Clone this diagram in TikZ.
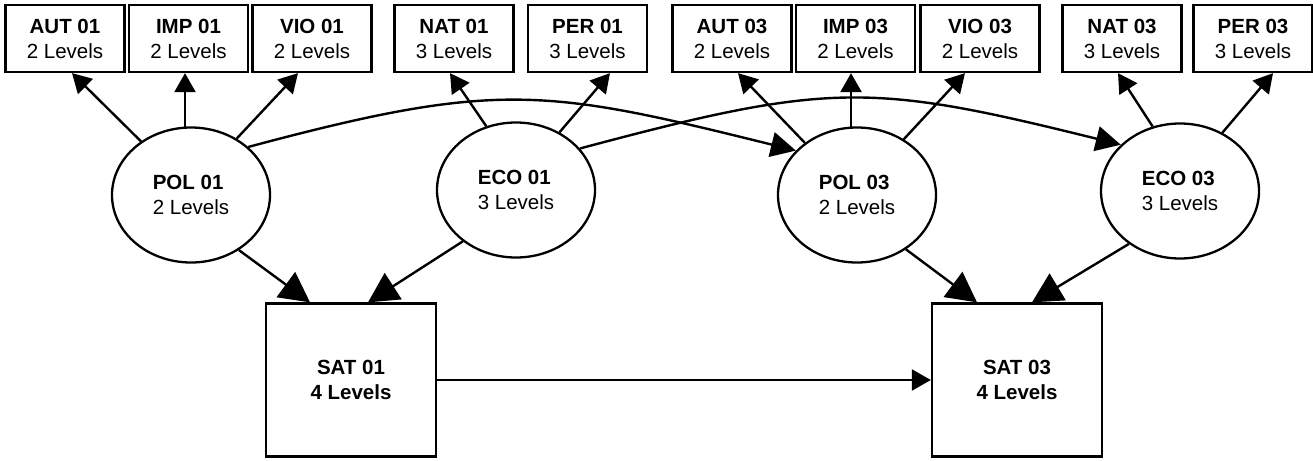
\documentclass[tikz,border=0pt]{standalone}
\usepackage{fontspec}
\setmainfont{Liberation Sans}
\usetikzlibrary{shapes.geometric,arrows.meta,calc}

\begin{document}
\begin{tikzpicture}[x=1pt,y=-1pt,
  every node/.style={font=\fontsize{20.5}{25}\selectfont},
  varbox/.style={draw,line width=2.3pt,minimum width=119pt,minimum height=67pt,inner sep=0pt,align=center},
  latent/.style={draw,ellipse,line width=2.3pt,minimum width=158pt,minimum height=135pt,inner sep=0pt,align=left},
  outcome/.style={draw,line width=2.3pt,minimum width=170pt,minimum height=153pt,inner sep=0pt,align=center,
    font=\fontsize{20.5}{25}\selectfont\bfseries},
  link/.style={line width=2.4pt},
  arrowS/.style={link,-{Triangle[length=19pt,width=21pt]}},
  arrowM/.style={link,-{Triangle[length=25pt,width=25pt]}},
  arrowL/.style={link,-{Triangle[length=30pt,width=31pt]}}
]
\useasboundingbox (0,0) rectangle (1313,460);

% indicator boxes
\node[varbox] (aut1) at (65,38.5)    {\textbf{AUT 01}\\2 Levels};
\node[varbox] (imp1) at (188.5,38.5) {\textbf{IMP 01}\\2 Levels};
\node[varbox] (vio1) at (312,38.5)   {\textbf{VIO 01}\\2 Levels};
\node[varbox] (nat1) at (454,38.5)   {\textbf{NAT 01}\\3 Levels};
\node[varbox] (per1) at (587.5,38.5) {\textbf{PER 01}\\3 Levels};
\node[varbox] (aut3) at (732,38.5)   {\textbf{AUT 03}\\2 Levels};
\node[varbox] (imp3) at (855.5,38.5) {\textbf{IMP 03}\\2 Levels};
\node[varbox] (vio3) at (980,38.5)   {\textbf{VIO 03}\\2 Levels};
\node[varbox] (nat3) at (1122,38.5)  {\textbf{NAT 03}\\3 Levels};
\node[varbox] (per3) at (1253,38.5)  {\textbf{PER 03}\\3 Levels};

% latent factors
\node[latent] (pol1) at (191,195)  {\textbf{POL 01}\\2 Levels};
\node[latent] (eco1) at (516,190)  {\textbf{ECO 01}\\3 Levels};
\node[latent] (pol3) at (857,195)  {\textbf{POL 03}\\2 Levels};
\node[latent] (eco3) at (1180,191) {\textbf{ECO 03}\\3 Levels};

% satisfaction outcomes
\node[outcome] (sat1) at (351,380)  {SAT 01\\4 Levels};
\node[outcome] (sat3) at (1017,380) {SAT 03\\4 Levels};

% factor -> indicator
\draw[arrowS] (pol1.133) -- ($(aut1.south)+(7,0)$);
\draw[arrowS] (pol1.95) -- (pol1.95 |- imp1.south);
\draw[arrowS] (pol1.51) -- ($(vio1.south)+(-14,0)$);
\draw[arrowS] (eco1.115) -- ($(nat1.south)+(-4,0)$);
\draw[arrowS] (eco1.53) -- ($(per1.south)+(22.5,0)$);
\draw[arrowS] (pol3.135) -- ($(aut3.south)+(6,0)$);
\draw[arrowS] (pol3.95) -- (pol3.95 |- imp3.south);
\draw[arrowS] (pol3.50) -- ($(vio3.south)+(-15,0)$);
\draw[arrowS] (eco3.113) -- ($(nat3.south)+(-4,0)$);
\draw[arrowS] (eco3.54) -- ($(per3.south)+(20,0)$);

% factor at wave 1 -> factor at wave 3
\draw[arrowM] (pol1.40) .. controls ($(pol1.40)+(250,-67)$) and ($(pol3.144)+(-250,-62)$) .. (pol3.144);
\draw[arrowM] (eco1.33) .. controls ($(eco1.33)+(250,-67)$) and ($(eco3.142)+(-250,-62)$) .. (eco3.142);

% factor -> satisfaction
\draw[arrowL] (pol1.-49) -- ($(sat1.north)+(-41,0)$);
\draw[arrowL] (eco1.-136) -- ($(sat1.north)+(17,0)$);
\draw[arrowL] (pol3.-48) -- ($(sat3.north)+(-40,0)$);
\draw[arrowL] (eco3.-134) -- ($(sat3.north)+(15,0)$);

% satisfaction over time
\draw[arrowS] (sat1.east) -- (sat3.west);
\end{tikzpicture}
\end{document}
